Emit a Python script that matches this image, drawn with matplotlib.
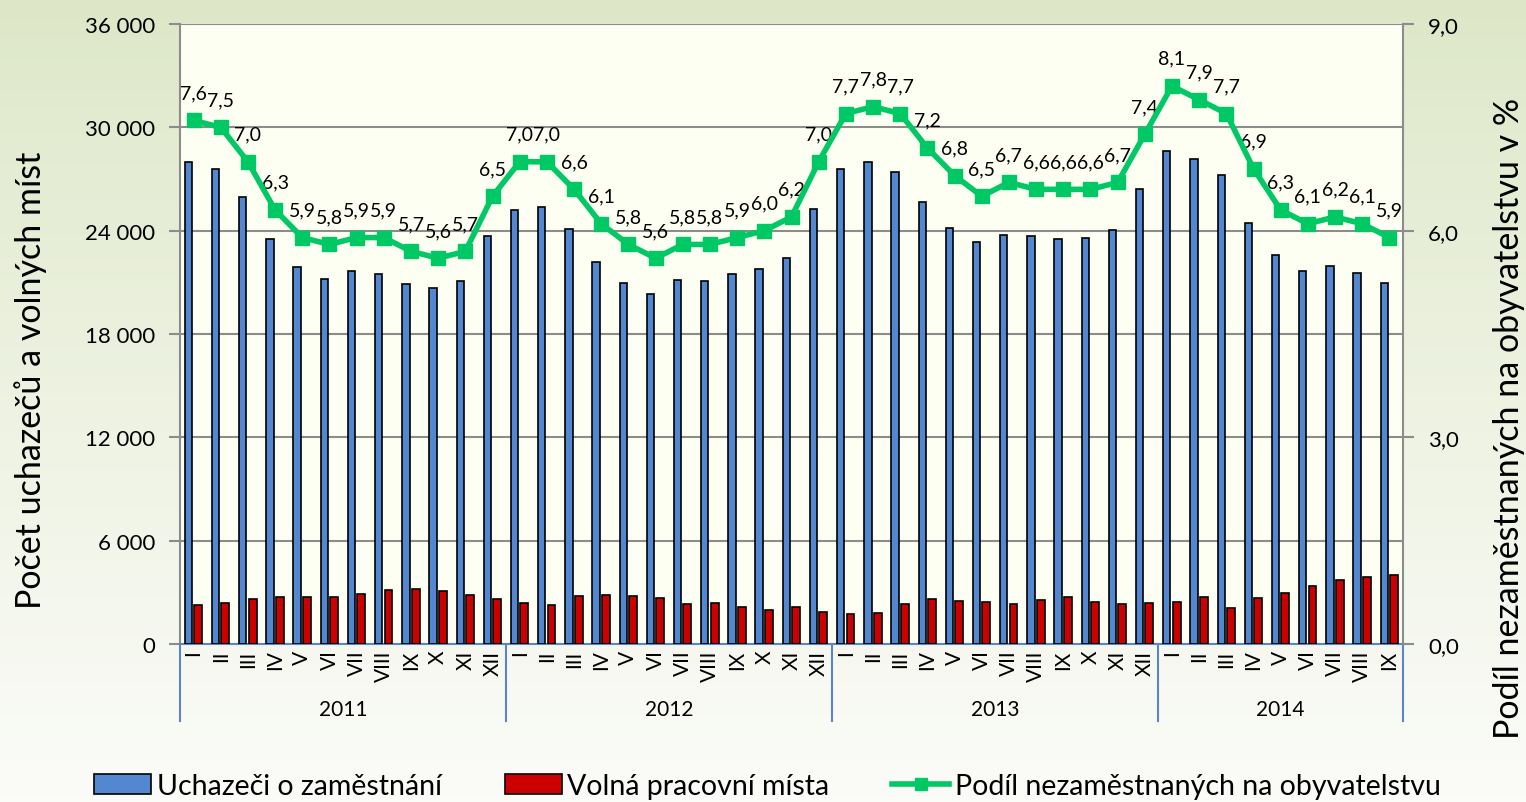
import numpy as np
import matplotlib
matplotlib.use('Agg')
import matplotlib.pyplot as plt
from matplotlib.patches import Patch
from matplotlib.lines import Line2D
from matplotlib.ticker import FuncFormatter
import matplotlib.transforms as mtransforms

plt.rcParams['font.family'] = ['Lato', 'DejaVu Sans']

roky = ['2011', '2012', '2013', '2014']
mesice = ['I', 'II', 'III', 'IV', 'V', 'VI', 'VII', 'VIII', 'IX', 'X', 'XI', 'XII']
popisky = mesice * 3 + mesice[:9]

uchazeci = [28000, 27600, 25950, 23500, 21900, 21200, 21650, 21500, 20900, 20700, 21050, 23700,
            25200, 25350, 24100, 22200, 20950, 20350, 21150, 21100, 21500, 21800, 22400, 25250,
            27600, 28000, 27400, 25650, 24150, 23350, 23750, 23700, 23500, 23600, 24050, 26400,
            28650, 28150, 27250, 24450, 22600, 21650, 21950, 21550, 20950]
volna_mista = [2250, 2400, 2600, 2750, 2750, 2750, 2900, 3150, 3200, 3050, 2850, 2600,
               2400, 2250, 2800, 2850, 2800, 2650, 2300, 2400, 2150, 2000, 2150, 1850,
               1750, 1800, 2300, 2600, 2500, 2450, 2300, 2550, 2750, 2450, 2350, 2400,
               2450, 2750, 2100, 2700, 2950, 3350, 3700, 3900, 4000]
podil = [7.6, 7.5, 7.0, 6.3, 5.9, 5.8, 5.9, 5.9, 5.7, 5.6, 5.7, 6.5,
         7.0, 7.0, 6.6, 6.1, 5.8, 5.6, 5.8, 5.8, 5.9, 6.0, 6.2, 7.0,
         7.7, 7.8, 7.7, 7.2, 6.8, 6.5, 6.7, 6.6, 6.6, 6.6, 6.7, 7.4,
         8.1, 7.9, 7.7, 6.9, 6.3, 6.1, 6.2, 6.1, 5.9]
pocty_mesicu = [12, 12, 12, 9]

modra = '#5388d0'
cervena = '#cc0000'
zelena = '#00c864'
seda = '#8c8c8c'
osa_modra = '#5b86c5'

fig = plt.figure(figsize=(15.26, 8.03), dpi=100)

# pozadi s prechodem
bg = fig.add_axes([0, 0, 1, 1], zorder=-10)
g = np.linspace(0, 1, 256) ** 0.9
top = np.array([0.867, 0.906, 0.780])
bot = np.array([0.985, 0.988, 0.975])
img = top[None, :] * (1 - g[:, None]) + bot[None, :] * g[:, None]
bg.imshow(img[:, None, :], aspect='auto', extent=[0, 1, 0, 1])
bg.axis('off')

ax = fig.add_axes([180 / 1526, 1 - 645 / 803, (1403 - 180) / 1526, (645 - 25) / 803])
ax.set_facecolor('#fdfff2')
x = np.arange(len(popisky))

ax.bar(x - 0.19, uchazeci, width=0.27, color=modra, edgecolor='black', linewidth=1.2, zorder=3)
ax.bar(x + 0.17, volna_mista, width=0.29, color=cervena, edgecolor='black', linewidth=1.2, zorder=3)

ax.set_xlim(-0.5, len(popisky) - 0.5)
ax.set_ylim(0, 36000)
ax.set_yticks(np.arange(0, 36001, 6000))
ax.yaxis.set_major_formatter(FuncFormatter(lambda v, p: f'{int(v):,}'.replace(',', ' ')))
ax.grid(axis='y', color=seda, linewidth=1.5, zorder=0)
ax.set_axisbelow(True)
ax.tick_params(axis='y', length=8, width=1.5, color=seda, labelsize=16, pad=10)
ax.set_xticks(x)
ax.set_xticklabels(popisky, rotation=90, fontsize=15)
ax.tick_params(axis='x', length=0, pad=4)
for s in ['top', 'right']:
    ax.spines[s].set_visible(False)
ax.spines['left'].set_color(seda)
ax.spines['left'].set_linewidth(1.5)
ax.spines['bottom'].set_color(osa_modra)
ax.spines['bottom'].set_linewidth(1.5)

# oddelovace let a popisky let
trans = mtransforms.blended_transform_factory(ax.transData, ax.transAxes)
hranice = np.concatenate([[0], np.cumsum(pocty_mesicu)]) - 0.5
dole = -77 / 620
for h in hranice:
    ax.plot([h, h], [0, dole], color=osa_modra, linewidth=1.5, transform=trans, clip_on=False)
for i, rok in enumerate(roky):
    stred = (hranice[i] + hranice[i + 1]) / 2
    ax.text(stred, -65 / 620, rok, transform=trans, ha='center', va='center', fontsize=15)

ax2 = ax.twinx()
ax2.patch.set_visible(False)
ax2.plot(x, podil, color=zelena, linewidth=4, marker='s', markersize=10, zorder=5)
ax2.set_ylim(0, 9)
ax2.set_yticks([0, 3, 6, 9])
ax2.yaxis.set_major_formatter(FuncFormatter(lambda v, p: f'{v:.1f}'.replace('.', ',')))
ax2.tick_params(axis='y', length=8, width=1.5, color=seda, labelsize=16, pad=10)
for s in ['top', 'left', 'bottom']:
    ax2.spines[s].set_visible(False)
ax2.spines['right'].set_color(seda)
ax2.spines['right'].set_linewidth(1.5)

fig.text(31 / 1526, 1 - 380 / 803, 'Počet uchazečů a volných míst', rotation=90,
         ha='center', va='center', fontsize=24.5)
fig.text(1509 / 1526, 1 - 418 / 803, 'Podíl nezaměstnaných na obyvatelstvu v %', rotation=90,
         ha='center', va='center', fontsize=24.5)

for xi, v in zip(x, podil):
    ax2.annotate(f'{v:.1f}'.replace('.', ','), (xi, v), xytext=(0, 20), textcoords='offset points',
                 ha='center', va='center', fontsize=14)

handles = [Patch(facecolor=modra, edgecolor='black', linewidth=1.2),
           Patch(facecolor=cervena, edgecolor='black', linewidth=1.2),
           Line2D([0], [0], color=zelena, linewidth=4, marker='s', markersize=9)]
labels = ['Uchazeči o zaměstnání', 'Volná pracovní místa', 'Podíl nezaměstnaných na obyvatelstvu']
fig.legend(handles, labels, loc='center', bbox_to_anchor=(0.503, 1 - 787 / 803), ncol=3, frameon=False,
           fontsize=20.5, handlelength=2.0, handletextpad=0.2, columnspacing=2.2)

fig.savefig('out.png', dpi=100)
